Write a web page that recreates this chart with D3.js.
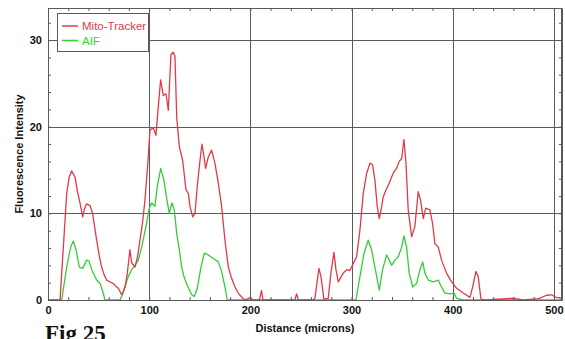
<!DOCTYPE html>
<html>
<head>
<meta charset="utf-8">
<script src="https://cdn.jsdelivr.net/npm/d3@7"></script>
<style>
  html, body { margin: 0; padding: 0; background: #fff; }
  svg { display: block; }
  text { font-family: "Liberation Sans", Arial, sans-serif; }
</style>
</head>
<body>
<script>
// ---- data ----
const seriesNames = ["Mito-Tracker", "AIF"];
const mitoX = [0,10,11.9,18.5,21,23.4,26.7,29,31.6,34.3,36,38.2,41.5,44.1,46,48.1,50.5,53,55.5,58,61,64.5,67,69.5,72.8,74.5,76.1,78.4,81,82.7,86,88.5,90.9,93.5,95.8,98.5,100.8,104,106.7,109,111.3,114,116.6,118.9,121.5,123.8,125.5,127.2,129.8,133.1,136.4,138.7,140.3,143,145.3,147.5,150.2,152.2,154.2,155.8,158.4,161.7,165,168.3,171.6,174.9,178.2,181.5,184.8,188,192.4,195,200,202,209,211,212.5,244,245.7,247.5,262,263.8,267.8,269.8,272.7,277,279.6,282.6,284.6,286.9,291.8,295.2,298.4,301.7,305,308.3,311.6,314.9,318.2,320.8,323.1,325.4,327.4,329.8,331.3,334,337.3,339.6,341.9,344.6,347.1,349.5,351.8,353.8,356,359.4,362.6,365.9,368.3,370.9,373.3,377.5,380.1,382.4,385.7,389,393.9,398.9,403.9,410.4,417,419.7,422.9,425.2,427.9,432,460,470,485,492.8,497.7,502,508];
const mitoY = [0,0,0,12.3,14.2,14.9,14.2,12.6,11.2,9.6,10.5,11.1,10.9,10.0,8.5,6.9,5.2,3.8,2.9,2.3,2.1,1.9,1.6,1.35,0.6,1.0,1.5,3.1,5.8,4.3,3.8,5.0,6.9,9.0,11.5,15.5,19.6,19.9,19.0,22.3,25.4,23.6,23.8,21.9,28.3,28.6,28.1,21.1,17.7,16.1,12.7,12.3,10.8,9.6,10.0,13.1,16.1,18.0,16.5,15.2,16.5,17.3,15.8,13.5,10.8,6.9,3.8,2.5,1.5,0.8,0.2,0,0.3,0,0,1.1,0,0,0.7,0,0,0.2,3.65,2.7,0.1,0.2,3.1,5.5,3.5,2.1,3.1,3.5,3.4,4.2,5.0,8.1,12.3,14.6,15.8,15.6,13.8,10.8,9.4,10.8,11.9,12.7,13.5,14.2,14.8,15.2,16.0,16.3,18.5,15.8,10.4,7.3,8.5,12.5,11.5,9.4,10.6,10.4,8.8,6.5,6.1,4.6,3.1,2.1,1.35,0.8,0.3,1.5,3.3,2.7,0.1,0,0.2,0,0.15,0.55,0.6,0.3,0.2];
const aifX = [0,13.5,18.5,22.4,25,27.7,30.9,34.3,38.2,40.5,43.2,48.1,51.4,54.6,56.3,71.1,73.5,76.1,79.3,82.7,86,89.2,92.6,96.8,100.1,102.5,105.7,108,111.4,114.6,117.3,119.9,122.5,124.8,127.2,129.8,132.1,134.4,137.6,142,144.6,147.5,151.2,154.5,158.4,163.3,168.3,171.6,174.9,177.2,304.3,308.3,312.3,316.5,319.8,323.1,327.4,330.7,334.7,337.3,339.6,342.9,346.2,349.5,351.8,354.4,357,360.4,364.3,367.6,370.3,372.5,375.8,380.7,385.7,388,392.3,397.2,401.2,403.8,410.4,508];
const aifY = [0,0,3.8,6.1,6.8,5.8,3.8,3.65,4.6,4.5,3.5,2.3,1.9,0.8,0,0,0.6,1.5,2.7,3.5,4.0,4.6,6.1,8.5,10.6,11.2,10.8,13.1,15.2,13.8,11.7,10.0,11.2,10.4,7.7,5.8,3.8,2.7,1.7,0.6,0.4,1.35,3.8,5.4,5.2,4.8,4.4,3.3,1.5,0,0,2.7,5.4,6.9,5.8,3.8,1.15,3.5,5.2,4.6,4.0,4.6,5.0,6.1,7.4,6.1,3.1,1.5,1.9,3.5,4.4,3.1,2.3,2.1,2.3,1.7,0.8,0.7,0.8,0.2,0,0];
const xTickLabels = [0, 100, 200, 300, 400, 500];
const yTickLabels = [0, 10, 20, 30];
const xTitle = "Distance (microns)";
const yTitle = "Fluorescence Intensity";
const figLabel = "Fig 25";

// ---- layout ----
const W = 565, H = 339;
const L = 48, R = 562, T = 8, B = 300;
const colors = ["#e03a48", "#36cc36"];

const svg = d3.select("body").append("svg").attr("width", W).attr("height", H);

const x = d3.scaleLinear().domain([0, 508]).range([L, R]);
const y = d3.scaleLinear().domain([0, 33.7]).range([B, T]);

// grid
const grid = svg.append("g").attr("stroke", "#5a5a5a").attr("stroke-width", 1);
grid.selectAll(".vg").data(xTickLabels.filter(v => v > 0)).enter().append("line")
  .attr("x1", d => Math.round(x(d)) + 0.5).attr("x2", d => Math.round(x(d)) + 0.5)
  .attr("y1", T).attr("y2", B);
grid.selectAll(".hg").data(yTickLabels.filter(v => v > 0)).enter().append("line")
  .attr("y1", d => Math.round(y(d)) + 0.5).attr("y2", d => Math.round(y(d)) + 0.5)
  .attr("x1", L).attr("x2", R);

// lines
const series = [
  { name: seriesNames[0], xs: mitoX, ys: mitoY, color: colors[0] },
  { name: seriesNames[1], xs: aifX, ys: aifY, color: colors[1] }
];
const line = d3.line().x(d => x(d[0])).y(d => y(d[1]));
[series[1], series[0]].forEach(s => {
  svg.append("path")
    .datum(s.xs.map((v, i) => [v, s.ys[i]]))
    .attr("fill", "none")
    .attr("stroke", s.color)
    .attr("stroke-width", 1.3)
    .attr("stroke-linejoin", "round")
    .attr("d", line);
});

// axes
const fmtX = d => (d % 100 === 0 ? d : "");
const fmtY = d => (d % 10 === 0 ? d : "");
const xVals = d3.range(0, 509, 20);
const yVals = d3.range(0, 33.7, 2);
function styleAxis(g) {
  g.select(".domain").attr("stroke", "#5a5a5a");
  g.selectAll(".tick line").attr("stroke", "#5a5a5a");
  g.selectAll(".tick text").attr("fill", "#111").style("font-size", "11px")
    .style("font-weight", "bold").style("font-family", "'Liberation Sans', Arial, sans-serif");
}
svg.append("g").attr("transform", `translate(0,${B})`)
  .call(d3.axisBottom(x).tickValues(xVals).tickFormat(fmtX).tickSize(-3).tickSizeOuter(0).tickPadding(6))
  .call(styleAxis);
svg.append("g").attr("transform", `translate(0,${T})`)
  .call(d3.axisTop(x).tickValues(xVals).tickFormat("").tickSize(-3).tickSizeOuter(0))
  .call(styleAxis);
svg.append("g").attr("transform", `translate(${L},0)`)
  .call(d3.axisLeft(y).tickValues(yVals).tickFormat(fmtY).tickSize(-3).tickSizeOuter(0).tickPadding(6))
  .call(styleAxis);
svg.append("g").attr("transform", `translate(${R},0)`)
  .call(d3.axisRight(y).tickValues(yVals).tickFormat("").tickSize(-3).tickSizeOuter(0))
  .call(styleAxis);

// frame
svg.append("rect").attr("x", L + 0.5).attr("y", T + 0.5).attr("width", R - L - 1).attr("height", B - T)
  .attr("fill", "none").attr("stroke", "#5a5a5a").attr("stroke-width", 1);

// legend
const lg = svg.append("g");
lg.append("rect").attr("x", 57.5).attr("y", 13.5).attr("width", 91).attr("height", 38)
  .attr("fill", "#fff").attr("stroke", "#5a5a5a").attr("stroke-width", 1);
series.forEach((s, i) => {
  const yy = 26 + i * 14.5;
  lg.append("line").attr("x1", 62).attr("x2", 78).attr("y1", yy).attr("y2", yy)
    .attr("stroke", s.color).attr("stroke-width", 1.5);
  lg.append("text").attr("x", 82).attr("y", yy + 4).attr("fill", s.color)
    .style("font-size", "11.5px").text(s.name);
});

// titles
svg.append("text").attr("x", 305).attr("y", 332).attr("text-anchor", "middle")
  .style("font-size", "11px").style("font-weight", "bold").attr("fill", "#111").text(xTitle);
svg.append("text").attr("transform", "translate(23,154) rotate(-90)").attr("text-anchor", "middle")
  .style("font-size", "11px").style("font-weight", "bold").attr("fill", "#111").text(yTitle);
svg.append("text").attr("x", 45).attr("y", 341)
  .style("font-family", "'Liberation Serif', 'Times New Roman', serif")
  .style("font-size", "23px").style("font-weight", "bold").attr("fill", "#111").text(figLabel);
</script>
</body>
</html>
